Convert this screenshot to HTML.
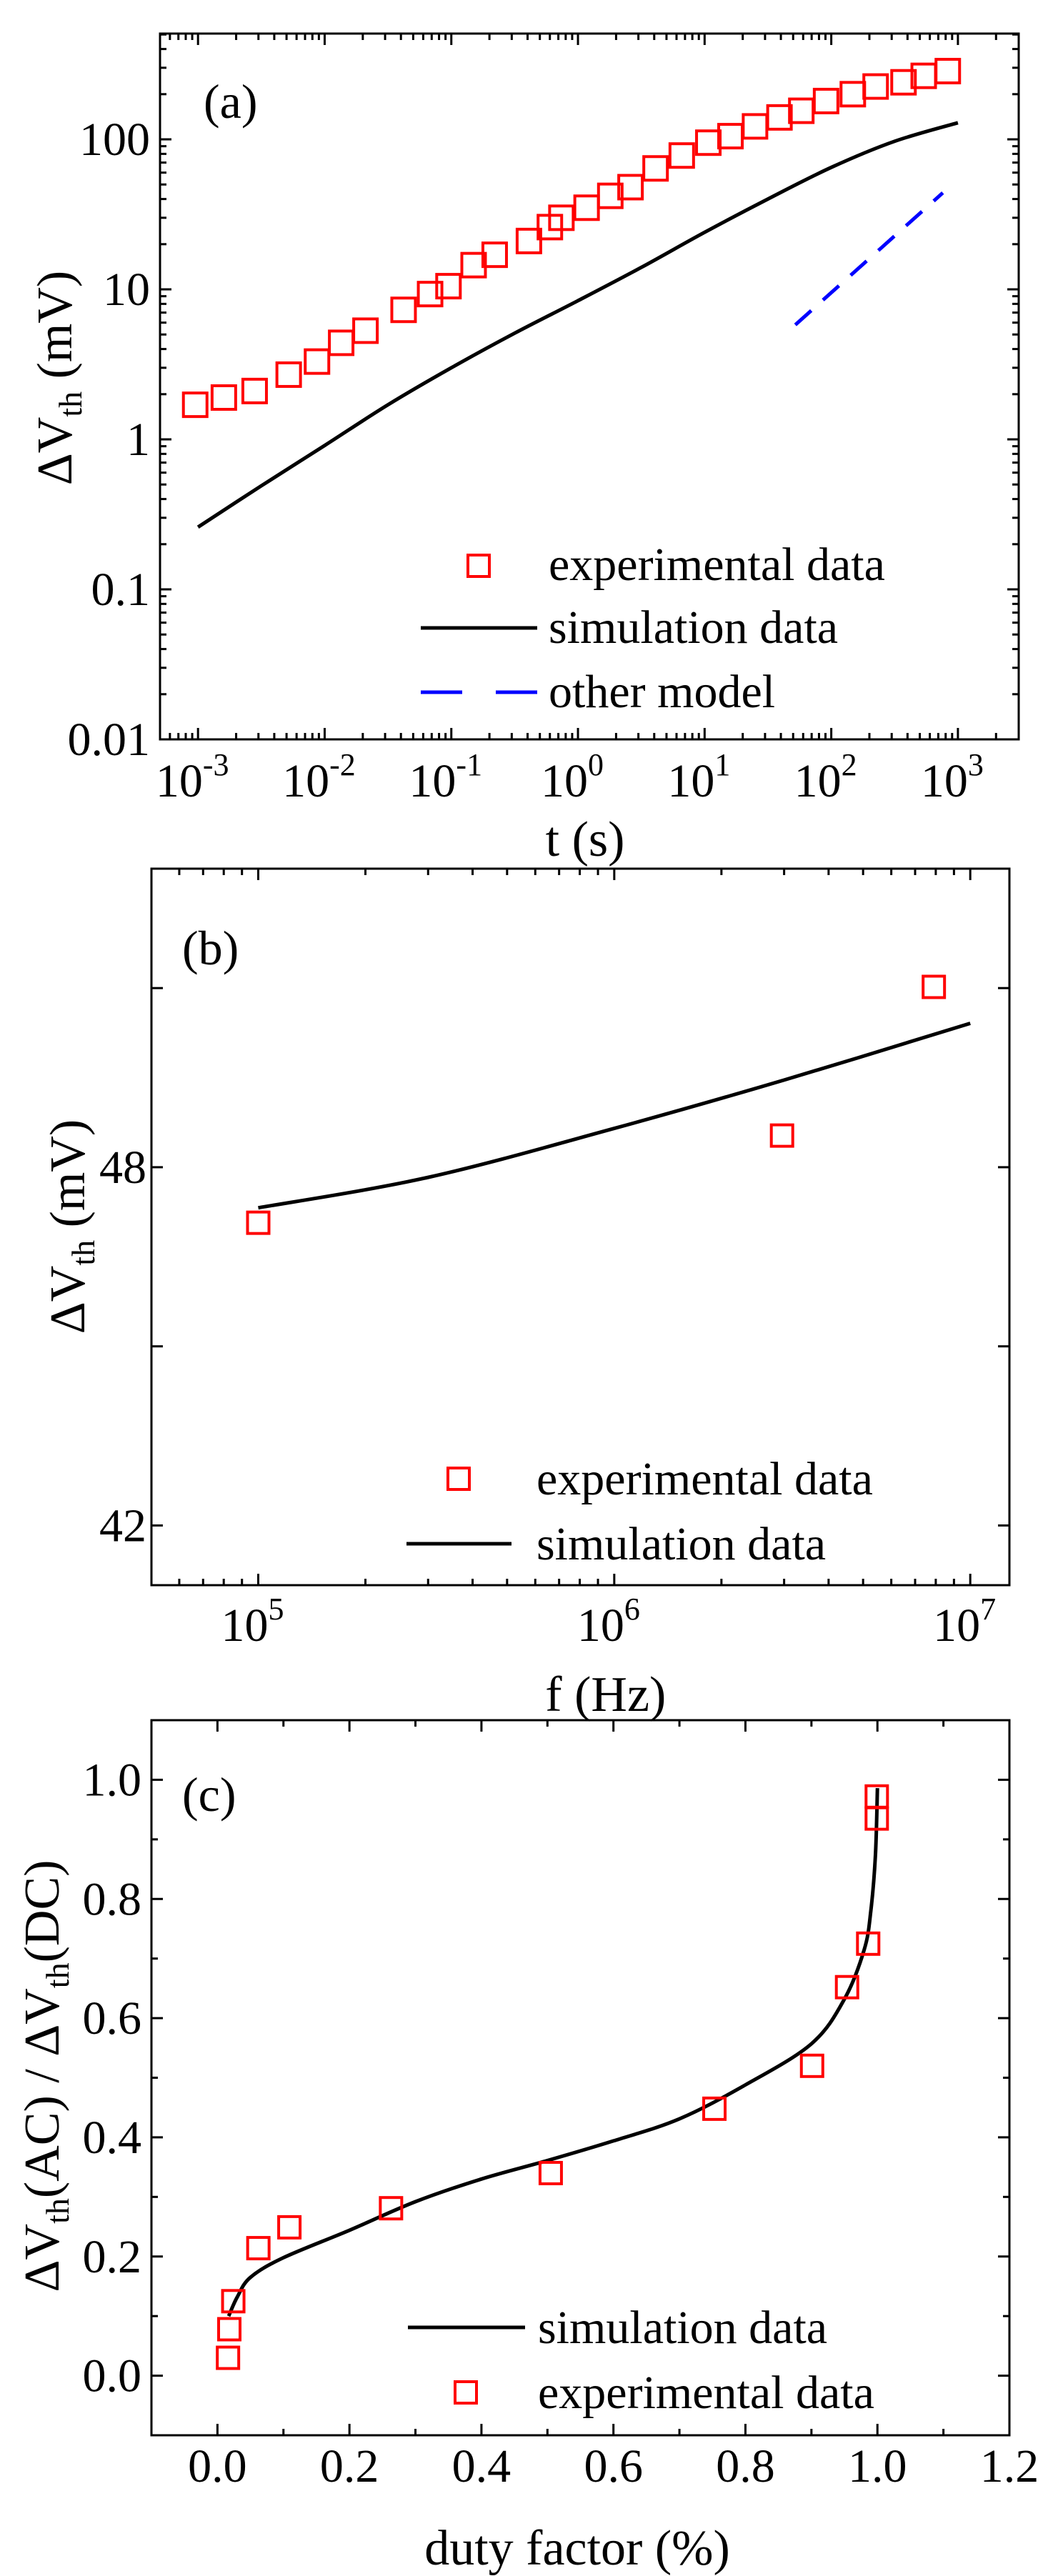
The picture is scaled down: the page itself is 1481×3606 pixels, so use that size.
<!DOCTYPE html>
<html><head><meta charset="utf-8"><style>
body{margin:0;background:#fff}
svg{display:block;font-family:"Liberation Serif",serif}
text{font-family:"Liberation Serif",serif}
</style></head><body>
<svg id="fig" width="1481" height="3606" viewBox="0 0 1481 3606" xmlns="http://www.w3.org/2000/svg" font-family="Liberation Serif, serif"></svg>
<script>
// ---- Panel (a) data ----
const aExpT = [0.00095,0.0016,0.0028,0.0052,0.0087,0.0135,0.021,0.042,0.068,0.095,0.15,0.22,0.41,0.6,0.74,1.17,1.8,2.6,4.1,6.6,10.7,16,25,39,58,91,148,224,372,537,832];
const aExpV = [1.7,1.9,2.1,2.7,3.3,4.4,5.3,7.3,9.3,10.5,14.5,17,21,26,30,35,42,48,64,78,95,105,122,140,155,180,200,225,240,265,285];
const aSimT = [0.001,0.00316,0.01,0.0316,0.1,0.316,1,3.16,10,31.6,100,316,1000];
const aSimV = [0.26,0.49,0.91,1.7,3.0,5.1,8.4,14,24,40,65,97,129];
const aOthT = [52,760];
const aOthV = [5.8,44];
const aYTicks = [0.01,0.1,1,10,100];
const aYLabels = ["0.01","0.1","1","10","100"];
const aXExp = [-3,-2,-1,0,1,2,3];
// ---- Panel (b) data ----
const bExpF = [1e5,2.96e6,7.9e6];
const bExpV = [47.07,48.53,51.02];
const bSimF = [1e5,3e5,1e6,3e6,1e7];
const bSimV = [47.32,47.83,48.65,49.46,50.41];
const bYTicks = [42,45,48,51];
const bYLabels = ["42","","48",""];
const bXExp = [5,6,7];
// ---- Panel (c) data ----
const cExpX = [0.016,0.018,0.024,0.062,0.109,0.263,0.505,0.753,0.901,0.954,0.986,0.999,0.999];
const cExpY = [0.030,0.078,0.125,0.214,0.249,0.281,0.340,0.448,0.520,0.652,0.725,0.935,0.972];
const cSimX = [0.017,0.03,0.05,0.1,0.2,0.3,0.4,0.5,0.6,0.7,0.8,0.9,0.95,0.98,0.99,0.997,1.0];
const cSimY = [0.10,0.132,0.165,0.198,0.244,0.292,0.330,0.361,0.394,0.431,0.488,0.557,0.632,0.715,0.78,0.874,0.986];
const cTicks = ["0.0","0.2","0.4","0.6","0.8","1.0","1.2"];
const cYTicks = ["0.0","0.2","0.4","0.6","0.8","1.0"];

const NS="http://www.w3.org/2000/svg";
const svg=document.getElementById('fig');
function mk(tag,attrs,parent,txt){const e=document.createElementNS(NS,tag);for(const k in attrs)e.setAttribute(k,attrs[k]);if(tag==='text')e.setAttribute('font-family','Liberation Serif, serif');if(txt!==undefined)e.textContent=txt;(parent||svg).appendChild(e);return e;}
function grp(name){const g=mk('g',{});return g;}
function logScale(d0,d1,r0,r1){return v=>r0+(Math.log10(v)-d0)/(d1-d0)*(r1-r0);}
function linScale(d0,d1,r0,r1){return v=>r0+(v-d0)/(d1-d0)*(r1-r0);}
function frame(g,L,T,R,B){const r=mk('rect',{x:L,y:T,width:R-L,height:B-T,fill:'none',stroke:'#000','stroke-width':3},g);}
function xtick(g,x,T,B,len){mk('line',{x1:x,x2:x,y1:B,y2:B-len,stroke:'#000','stroke-width':3},g);mk('line',{x1:x,x2:x,y1:T,y2:T+len,stroke:'#000','stroke-width':3},g);}
function ytick(g,y,L,R,len){mk('line',{x1:L,x2:L+len,y1:y,y2:y,stroke:'#000','stroke-width':3},g);mk('line',{x1:R,x2:R-len,y1:y,y2:y,stroke:'#000','stroke-width':3},g);}
function square(g,x,y,s){const r=mk('rect',{x:x-s/2,y:y-s/2,width:s,height:s,fill:'none',stroke:'#f00','stroke-width':4},g);}
function smooth(pts){let d='M'+pts[0][0]+','+pts[0][1];for(let i=0;i<pts.length-1;i++){const p0=pts[Math.max(0,i-1)],p1=pts[i],p2=pts[i+1],p3=pts[Math.min(pts.length-1,i+2)];const c1=[p1[0]+(p2[0]-p0[0])/6,p1[1]+(p2[1]-p0[1])/6],c2=[p2[0]-(p3[0]-p1[0])/6,p2[1]-(p3[1]-p1[1])/6];d+=` C${c1[0]},${c1[1]} ${c2[0]},${c2[1]} ${p2[0]},${p2[1]}`;}return d;}
function supLabel(g,x,y,base,exp){const t=mk('text',{x:x,y:y,'text-anchor':'middle','font-size':66},g);mk('tspan',{},t,base);mk('tspan',{'font-size':44,dy:-30},t,exp);return t;}
function dvTitle(g,x,y,extra){const t=mk('text',{transform:`translate(${x},${y}) rotate(-90)`,'text-anchor':'middle','font-size':70},g);mk('tspan',{},t,'ΔV');mk('tspan',{'font-size':46,dy:14},t,'th');mk('tspan',{dy:-14},t,extra);return t;}

// ================= Panel (a) =================
{
const g=grp('panel-a');
const L=224,R=1426,T=47,B=1035;
const X=logScale(-3.30,3.48,L,R), Y=logScale(-2,2.705,B,T);
frame(g,L,T,R,B);
const tk=grp('panel-a-ticks');g.appendChild(tk);
for(let e=-4;e<=3;e++)for(let m=1;m<10;m++){const v=m*Math.pow(10,e);const x=X(v);if(x<L+1||x>R-1)continue;xtick(tk,x,T,B,m===1?16:9);}
for(let e=-2;e<=2;e++)for(let m=1;m<10;m++){const v=m*Math.pow(10,e);const y=Y(v);if(y<T+1||y>B-1)continue;ytick(tk,y,L,R,m===1?16:9);}
aYTicks.forEach((v,i)=>{const t=mk('text',{x:210,y:Y(v)+22,'text-anchor':'end','font-size':66},g,aYLabels[i]);});
aXExp.forEach(e=>{const t=supLabel(g,X(Math.pow(10,e))-8,1115,'10',String(e));});
const xt=mk('text',{x:X(1)+10,y:1198,'text-anchor':'middle','font-size':70},g,'t (s)');
const yt=dvTitle(g,100,529,' (mV)');
const pl=mk('text',{x:285,y:165,'font-size':68},g,'(a)');
const sim=mk('path',{d:smooth(aSimT.map((t,i)=>[X(t),Y(aSimV[i])])),fill:'none',stroke:'#000','stroke-width':5},g);
const oth=mk('line',{x1:X(aOthT[0]),y1:Y(aOthV[0]),x2:X(aOthT[1]),y2:Y(aOthV[1]),stroke:'#00f','stroke-width':5,'stroke-dasharray':'30,22'},g);
aExpT.forEach((t,i)=>square(g,X(t),Y(aExpV[i]),33));
const lg=grp('legend-a');g.appendChild(lg);
square(lg,670,792,30);
mk('text',{x:768,y:812,'font-size':66},lg,'experimental data');
mk('line',{x1:589,x2:752,y1:879,y2:879,stroke:'#000','stroke-width':5},lg);
mk('text',{x:768,y:900,'font-size':66},lg,'simulation data');
mk('line',{x1:589,x2:752,y1:969,y2:969,stroke:'#00f','stroke-width':5,'stroke-dasharray':'58,47'},lg);
mk('text',{x:768,y:990,'font-size':66},lg,'other model');
}
// ================= Panel (b) =================
{
const g=grp('panel-b');
const L=212,R=1413,T=1216,B=2219;
const X=logScale(4.70,7.11,L,R), Y=linScale(41,53,B,T);
frame(g,L,T,R,B);
const tk=grp('panel-b-ticks');g.appendChild(tk);
for(let e=4;e<=7;e++)for(let m=1;m<10;m++){const v=m*Math.pow(10,e);const x=X(v);if(x<L+1||x>R-1)continue;xtick(tk,x,T,B,m===1?16:9);}
bYTicks.forEach((v,i)=>{ytick(tk,Y(v),L,R,16);if(bYLabels[i]){const t=mk('text',{x:205,y:Y(v)+22,'text-anchor':'end','font-size':66},g,bYLabels[i]);}});
bXExp.forEach(e=>{const t=supLabel(g,X(Math.pow(10,e))-8,2297,'10',String(e));});
const xt=mk('text',{x:X(1e6)-12,y:2395,'text-anchor':'middle','font-size':70},g,'f (Hz)');
const yt=dvTitle(g,118,1717,' (mV)');
const pl=mk('text',{x:255,y:1350,'font-size':68},g,'(b)');
const sim=mk('path',{d:smooth(bSimF.map((f,i)=>[X(f),Y(bSimV[i])])),fill:'none',stroke:'#000','stroke-width':5},g);
bExpF.forEach((f,i)=>square(g,X(f),Y(bExpV[i]),30));
const lg=grp('legend-b');g.appendChild(lg);
square(lg,642,2070,30);
mk('text',{x:751,y:2092,'font-size':66},lg,'experimental data');
mk('line',{x1:569,x2:716,y1:2161,y2:2161,stroke:'#000','stroke-width':5},lg);
mk('text',{x:751,y:2183,'font-size':66},lg,'simulation data');
}
// ================= Panel (c) =================
{
const g=grp('panel-c');
const L=212,R=1413,T=2408,B=3409;
const X=linScale(-0.1,1.2,L,R), Y=linScale(-0.1,1.1,B,T);
frame(g,L,T,R,B);
const tk=grp('panel-c-ticks');g.appendChild(tk);
for(let k=0;k<=12;k++){xtick(tk,X(k/10),T,B,k%2===0?16:9);}
for(let k=0;k<=10;k++){ytick(tk,Y(k/10),L,R,k%2===0?16:9);}
cTicks.forEach((s,i)=>{const t=mk('text',{x:X(i*0.2),y:3474,'text-anchor':'middle','font-size':66},g,s);});
cYTicks.forEach((s,i)=>{const t=mk('text',{x:198,y:Y(i*0.2)+22,'text-anchor':'end','font-size':66},g,s);});
const xt=mk('text',{x:808,y:3590,'text-anchor':'middle','font-size':70},g,'duty factor (%)');
const yt=mk('text',{transform:'translate(82,2906) rotate(-90)','text-anchor':'middle','font-size':70},g);
mk('tspan',{},yt,'ΔV');mk('tspan',{'font-size':46,dy:14},yt,'th');mk('tspan',{dy:-14},yt,'(AC) / ΔV');mk('tspan',{'font-size':46,dy:14},yt,'th');mk('tspan',{dy:-14},yt,'(DC)');

const pl=mk('text',{x:255,y:2535,'font-size':68},g,'(c)');
const pts=cSimX.map((x,i)=>[X(x),Y(cSimY[i])]);
const sim=mk('path',{d:smooth(pts),fill:'none',stroke:'#000','stroke-width':5,'stroke-linejoin':'round'},g);
cExpX.forEach((x,i)=>square(g,X(x),Y(cExpY[i]),30));
const lg=grp('legend-c');g.appendChild(lg);
mk('line',{x1:571,x2:735,y1:3258,y2:3258,stroke:'#000','stroke-width':5},lg);
mk('text',{x:753,y:3280,'font-size':66},lg,'simulation data');
square(lg,652,3349,30);
mk('text',{x:753,y:3371,'font-size':66},lg,'experimental data');
}
</script>
</body></html>
